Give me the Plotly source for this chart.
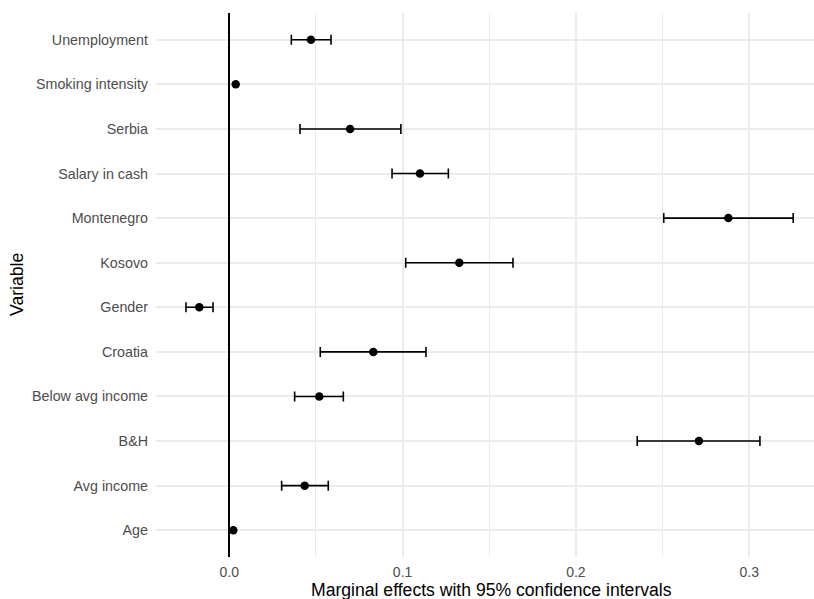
import plotly.graph_objects as go

variables = ["Age", "Avg income", "B&H", "Below avg income", "Croatia", "Gender",
             "Kosovo", "Montenegro", "Salary in cash", "Serbia", "Smoking intensity",
             "Unemployment"]
estimate = [0.0023, 0.0435, 0.2710, 0.0519, 0.0831, -0.0173,
            0.1327, 0.2880, 0.1100, 0.0697, 0.0037, 0.0471]
ci_low = [None, 0.0302, 0.2354, 0.0377, 0.0525, -0.0250,
          0.1018, 0.2507, 0.0939, 0.0408, None, 0.0358]
ci_high = [None, 0.0571, 0.3062, 0.0658, 0.1135, -0.0094,
           0.1637, 0.3254, 0.1264, 0.0990, None, 0.0587]

FONT = "Liberation Sans, Arial, Helvetica, sans-serif"

fig = go.Figure()

# error bars for rows with intervals
eb_y, eb_x, eb_plus, eb_minus = [], [], [], []
for v, e, lo, hi in zip(variables, estimate, ci_low, ci_high):
    if lo is not None and hi is not None:
        eb_y.append(v)
        eb_x.append(e)
        eb_plus.append(hi - e)
        eb_minus.append(e - lo)

fig.add_trace(go.Scatter(
    x=eb_x, y=eb_y, mode="markers",
    marker=dict(size=0.1, color="rgba(0,0,0,0)"),
    error_x=dict(type="data", symmetric=False, array=eb_plus, arrayminus=eb_minus,
                 color="black", thickness=1.6, width=5),
    hoverinfo="skip", showlegend=False,
))

fig.add_trace(go.Scatter(
    x=estimate, y=variables, mode="markers",
    marker=dict(size=8.5, color="black"),
    showlegend=False,
))

W, H = 814, 599
L, R, T, B = 156, 0, 13, 42

fig.update_layout(
    width=W, height=H,
    margin=dict(l=L, r=R, t=T, b=B, pad=0),
    paper_bgcolor="white", plot_bgcolor="white",
    font=dict(family=FONT, size=14, color="#4D4D4D"),
    xaxis=dict(
        range=[-0.0423, 0.3374],
        tickvals=[0.0, 0.1, 0.2, 0.3],
        ticktext=["0.0", "0.1", "0.2", "0.3"],
        showgrid=True, gridcolor="#EBEBEB", gridwidth=1.6,
        minor=dict(tickvals=[0.05, 0.15, 0.25], showgrid=True,
                   gridcolor="#EBEBEB", gridwidth=1.0),
        zeroline=True, zerolinecolor="black", zerolinewidth=1.6,
        showline=False, ticks="",
        ticklabelstandoff=5,
        tickfont=dict(family=FONT, size=14, color="#4D4D4D"),
    ),
    yaxis=dict(
        categoryorder="array", categoryarray=variables,
        range=[-0.6, len(variables) - 0.4],
        showgrid=True, gridcolor="#EBEBEB", gridwidth=1.6,
        zeroline=False, showline=False, ticks="",
        ticklabelstandoff=7,
        tickfont=dict(family=FONT, size=14.3, color="#4D4D4D"),
    ),
    annotations=[
        dict(text="Marginal effects with 95% confidence intervals",
             xref="paper", yref="paper", x=(491 - L) / (W - L - R),
             y=-(590 - (H - B)) / (H - T - B), xanchor="center", yanchor="middle",
             showarrow=False, font=dict(family=FONT, size=17.6, color="black")),
        dict(text="Variable", textangle=-90,
             xref="paper", yref="paper", x=(17 - L) / (W - L - R), y=0.5,
             xanchor="center", yanchor="middle",
             showarrow=False, font=dict(family=FONT, size=17.6, color="black")),
    ],
)

fig.write_html("out.html",
               config={"displayModeBar": False},
               post_script="document.body.style.margin='0';document.body.style.overflow='hidden';")
